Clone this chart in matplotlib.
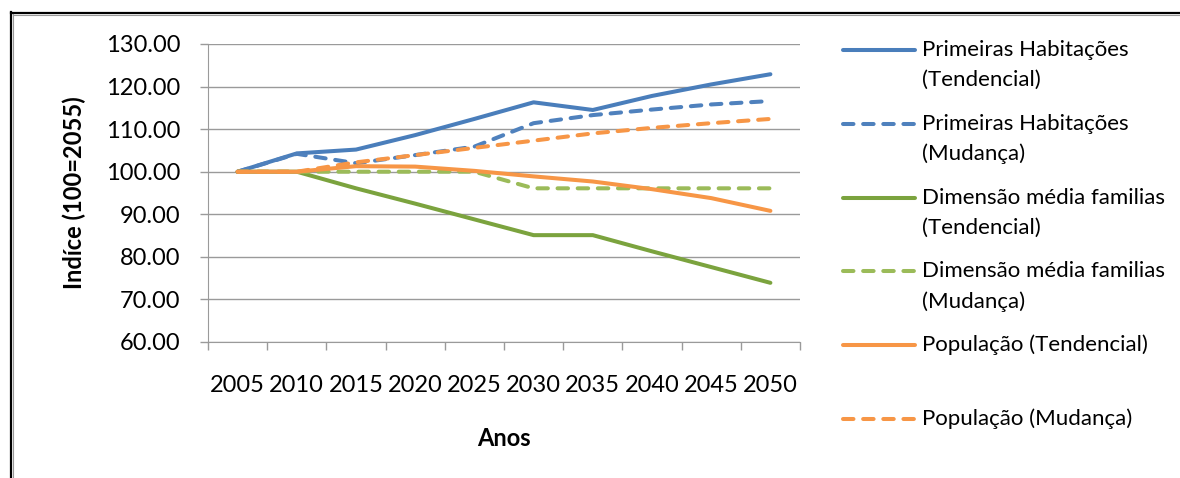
import matplotlib
matplotlib.use("Agg")
import matplotlib.pyplot as plt
from matplotlib.lines import Line2D
import numpy as np

plt.rcParams['font.family'] = ['Lato', 'DejaVu Sans']

# dados
anos = ['2005', '2010', '2015', '2020', '2025', '2030', '2035', '2040', '2045', '2050']
ph_tend = [100, 104.3, 105.2, 108.6, 112.4, 116.3, 114.5, 117.8, 120.5, 122.9]
ph_mud = [100, 104.2, 102.0, 103.9, 105.9, 111.4, 113.3, 114.6, 115.8, 116.6]
dm_tend = [100, 100, 96.1, 92.5, 88.8, 85.1, 85.1, 81.3, 77.6, 73.9]
dm_mud = [100, 100, 100, 100, 100, 96.1, 96.1, 96.1, 96.1, 96.1]
pop_tend = [100, 100, 101.3, 101.2, 100.2, 98.9, 97.7, 95.9, 93.8, 90.8]
pop_mud = [100, 100, 102.2, 103.9, 105.6, 107.3, 109.0, 110.3, 111.4, 112.4]

series = [ph_tend, ph_mud, dm_tend, dm_mud, pop_tend, pop_mud]
labels = ['Primeiras Habitações\n(Tendencial)', 'Primeiras Habitações\n(Mudança)',
          'Dimensão média familias\n(Tendencial)', 'Dimensão média familias\n(Mudança)',
          'População (Tendencial)', 'População (Mudança)']
colors = ['#4A7EBB', '#4F81BD', '#7BA33E', '#9BBB59', '#F79646', '#F79646']
dashed = [False, True, False, True, False, True]

W, H = 1180, 478
fig = plt.figure(figsize=(W / 100, H / 100), dpi=100)
ax = fig.add_axes([208 / W, 1 - 342 / H, (800 - 208) / W, (342 - 44) / H])

x = np.arange(len(anos))
lw = 2.9
dash = (0, (2.6, 2.4))
for s, c, d in zip(series, colors, dashed):
    if d:
        ax.plot(x, s, color=c, lw=lw, linestyle=dash,
                dash_capstyle='round', solid_joinstyle='round')
    else:
        ax.plot(x, s, color=c, lw=lw, solid_capstyle='round', solid_joinstyle='round')

grid_c = '#9A9A9A'
ax.set_ylim(60, 130)
ax.set_yticks(np.arange(60, 131, 10))
ax.set_yticklabels(['%.2f' % v for v in np.arange(60, 131, 10)])
ax.yaxis.grid(True, color=grid_c, lw=1)
ax.set_axisbelow(True)

ax.set_xlim(-0.5, len(anos) - 0.5)
ax.set_xticks(np.arange(-0.5, len(anos), 1))
ax.set_xticklabels([])
ax.set_xticks(x, minor=True)
ax.set_xticklabels(anos, minor=True)
ax.tick_params(axis='x', which='major', length=6, width=1, color=grid_c, direction='out')
ax.tick_params(axis='x', which='minor', length=0, pad=24, labelsize=17)
ax.tick_params(axis='y', length=6, width=1, color=grid_c, pad=14, labelsize=17)

for sp in ['top', 'right']:
    ax.spines[sp].set_visible(False)
for sp in ['left', 'bottom']:
    ax.spines[sp].set_color(grid_c)

ax.set_ylabel('Indíce (100=2055)', fontsize=17, fontweight='bold', labelpad=14)
ax.set_xlabel('Anos', fontsize=17, fontweight='bold', labelpad=22)

# legenda manual (linha alinhada com a primeira linha do texto)
for i, (lab, c, d) in enumerate(zip(labels, colors, dashed)):
    yp = 50 + i * 73.8
    ls = dash if d else '-'
    fig.add_artist(Line2D([843 / W, 915 / W], [1 - yp / H, 1 - yp / H], color=c, lw=lw,
                          linestyle=ls, solid_capstyle='round', dash_capstyle='round'))
    for k, part in enumerate(lab.split('\n')):
        fig.text(922 / W, 1 - (yp + 30 * k) / H, part, fontsize=16, va='center', ha='left')

# moldura
fig.add_artist(Line2D([11 / W, 1], [1 - 12.5 / H, 1 - 12.5 / H], color='black', lw=1.6))
fig.add_artist(Line2D([13 / W, 1], [1 - 14.5 / H, 1 - 14.5 / H], color='#999999', lw=0.8))
fig.add_artist(Line2D([10.5 / W, 10.5 / W], [0, 1 - 12 / H], color='black', lw=1.6))
fig.add_artist(Line2D([12.5 / W, 12.5 / W], [0, 1 - 14 / H], color='#999999', lw=0.8))

fig.savefig('out.png', dpi=100)
